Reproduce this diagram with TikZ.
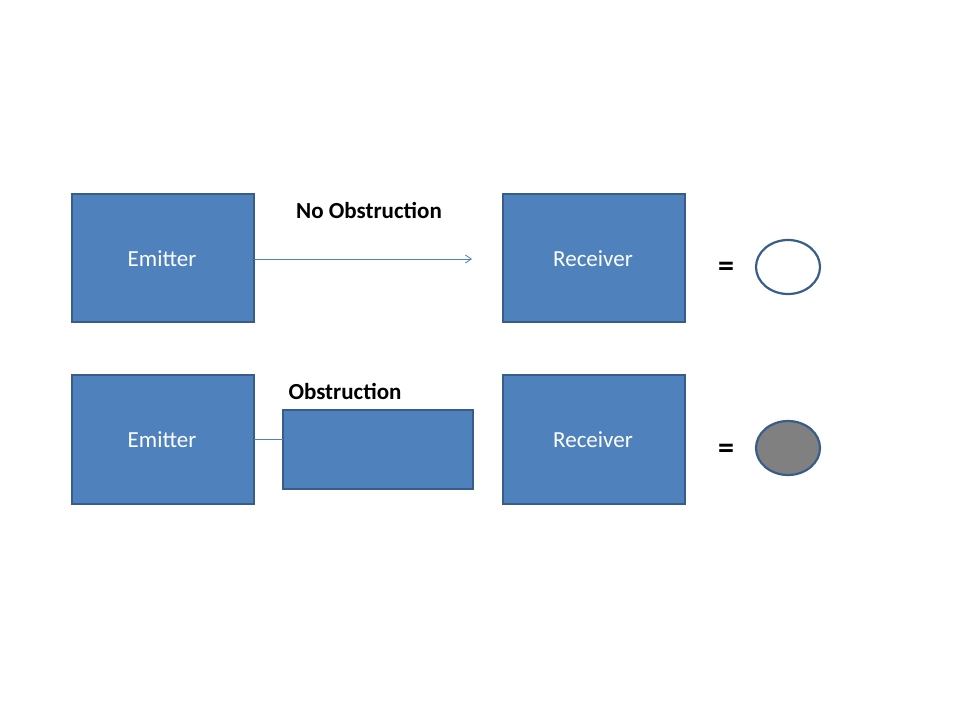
\documentclass[tikz,border=0pt]{standalone}
\usepackage{fontspec}
\setmainfont{Carlito}
\usetikzlibrary{arrows.meta}
\definecolor{bfill}{HTML}{4F81BD}
\definecolor{bdraw}{HTML}{385D8A}
\begin{document}
\begin{tikzpicture}[x=1pt,y=-1pt,
  box/.style={draw=bdraw,fill=bfill,line width=2.2pt},
  btxt/.style={text=white,font=\fontsize{23}{26}\selectfont},
  lbl/.style={font=\bfseries\fontsize{23}{26}\selectfont},
  eq/.style={font=\bfseries\fontsize{32}{34}\selectfont},
  conn/.style={draw=bfill,line width=0.8pt}]
\useasboundingbox (0,0) rectangle (960,720);
\path[box] (72,194) rectangle (254,322); \node[btxt] (e1) at (162,259) {Emitter};
\path[box] (503,194) rectangle (685,322); \node[btxt] (r1) at (593,259) {Receiver};
\path[box] (72,375) rectangle (254,504); \node[btxt] (e2) at (162,440) {Emitter};
\path[box] (503,375) rectangle (685,504); \node[btxt] (r2) at (593,440) {Receiver};
\path[box] (283,410) rectangle (473,489);
\coordinate (s1) at (254,259); \coordinate (t1) at (472,259);
\coordinate (s2) at (254,439); \coordinate (t2) at (283,439);
\draw[conn,-{Straight Barb[length=6pt,width=8pt]}] (s1) -- (t1);
\draw[conn] (s2) -- (t2);
\node[lbl] (l1) at (369,210) {No Obstruction};
\node[lbl] (l2) at (345,391) {Obstruction};
\node[eq] (q1) at (726,269) {=};
\node[eq] (q2) at (726,451) {=};
\draw[draw=bdraw,line width=2.2pt,fill=white] (788,267) ellipse [x radius=32,y radius=27];
\draw[draw=bdraw,line width=2.2pt,fill=gray] (788,448) ellipse [x radius=32,y radius=27];
\end{tikzpicture}
\end{document}
